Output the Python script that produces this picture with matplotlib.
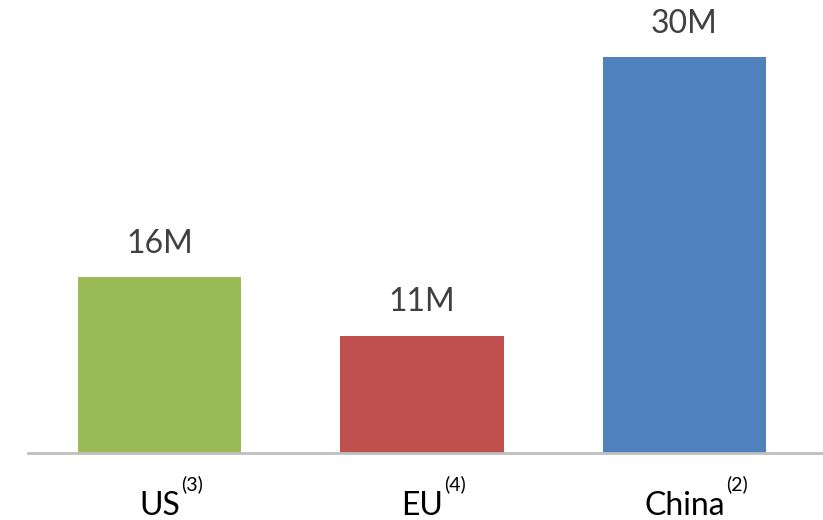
import numpy as np
import matplotlib
matplotlib.use('Agg')
import matplotlib.pyplot as plt

plt.rcParams['font.family'] = ['Lato', 'DejaVu Sans']

# Data (bar heights; the source chart is not drawn to scale)
categories = ['US', 'EU', 'China']
footnotes = ['(3)', '(4)', '(2)']
value_labels = ['16M', '11M', '30M']
bar_heights = [13.3, 8.9, 30.0]
bar_colors = ['#9BBB59', '#C0504D', '#4F81BD']

fig = plt.figure(figsize=(8.23, 5.2), dpi=100)
ax = fig.add_axes([28 / 823, 67 / 520, 795 / 823, 396 / 520])

x = np.arange(len(categories))
bars = ax.bar(x, bar_heights, width=0.623, color=bar_colors, zorder=2)

ax.set_xlim(-0.501, 2.528)
ax.set_ylim(0, 30)

# Hide everything except the baseline
for side in ['top', 'right', 'left']:
    ax.spines[side].set_visible(False)
ax.spines['bottom'].set_color('#BFBFBF')
ax.spines['bottom'].set_linewidth(2)
ax.spines['bottom'].set_zorder(3)
ax.set_xticks([])
ax.set_yticks([])

# Value labels above bars
for xi, h, lab in zip(x, bar_heights, value_labels):
    ax.annotate(lab, xy=(xi, h), xytext=(0, 24), textcoords='offset points',
                ha='center', va='center', fontsize=23, color='#404040',
                annotation_clip=False)

# Category labels, baseline ~62 px below the axis line
labels = []
for xi, cat in zip(x, categories):
    t = ax.annotate(cat, xy=(xi, 0), xytext=(0, -44.6), textcoords='offset points',
                    ha='center', va='baseline', fontsize=23, color='black',
                    annotation_clip=False)
    labels.append(t)

# Superscript footnotes placed just right of each label
fig.canvas.draw()
renderer = fig.canvas.get_renderer()
for t, fn in zip(labels, footnotes):
    bb = t.get_window_extent(renderer)
    ax.annotate(fn, xy=(bb.x1 + 1, 520 - 490), xycoords='figure pixels',
                ha='left', va='baseline', fontsize=14, color='black',
                annotation_clip=False)

fig.savefig('out.png', dpi=100)
